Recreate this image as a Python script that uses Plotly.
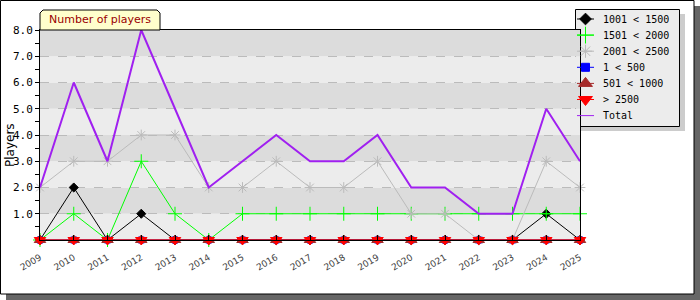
import plotly.graph_objects as go

years = list(range(2009, 2026))
s_1001_1500 = [0, 2, 0, 1, 0, 0, 0, 0, 0, 0, 0, 0, 0, 0, 0, 1, 0]
s_1501_2000 = [0, 1, 0, 3, 1, 0, 1, 1, 1, 1, 1, 1, 1, 1, 1, 1, 1]
s_2001_2500 = [2, 3, 3, 4, 4, 2, 2, 3, 2, 2, 3, 1, 1, 0, 0, 3, 2]
s_1_500 = [0] * 17
s_501_1000 = [0] * 17
s_2500_plus = [0] * 17
s_total = [2, 6, 3, 8, 5, 2, 3, 4, 3, 3, 4, 2, 2, 1, 1, 5, 3]
y_ticks = [1, 2, 3, 4, 5, 6, 7, 8]
y_ticktext = ["1.0", "2.0", "3.0", "4.0", "5.0", "6.0", "7.0", "8.0"]

W, H = 700, 300
PL, PR, PT, PB = 40, 580, 30, 240  # plot area in pixels


def fx(x):
    return x / W


def fy(y):
    return 1 - y / H


fig = go.Figure()

series = [
    ("1001 < 1500", s_1001_1500, "black", dict(symbol="diamond", size=7), 1),
    ("1501 < 2000", s_1501_2000, "#00ff00", dict(symbol="cross-thin-open", size=10), 1),
    ("2001 < 2500", s_2001_2500, "#bbbbbb", dict(symbol="asterisk-open", size=9), 1),
    ("1 < 500", s_1_500, "#0000ff", dict(symbol="square", size=6), 1),
    ("501 < 1000", s_501_1000, "#a52a2a", dict(symbol="triangle-up", size=10), 1),
    ("> 2500", s_2500_plus, "#ff0000", dict(symbol="triangle-down", size=10), 1),
    ("Total", s_total, "#a020f0", None, 2),
]
for name, vals, color, marker, lw in series:
    if marker is None:
        fig.add_trace(go.Scatter(x=years, y=vals, name=name, mode="lines",
                                 line=dict(color=color, width=lw), cliponaxis=False, showlegend=False))
    else:
        m = dict(marker, color=color, line=dict(color=color, width=1))
        fig.add_trace(go.Scatter(x=years, y=vals, name=name, mode="lines+markers",
                                 line=dict(color=color, width=lw), marker=m,
                                 cliponaxis=False, showlegend=False))

# custom legend drawn on a pixel overlay axis
LEG_X0, LEG_X1, LEG_Y0 = 577, 594, 19
LEG_STEP = 16.1
annotations = []
for i, (name, vals, color, marker, lw) in enumerate(series):
    yc = LEG_Y0 + i * LEG_STEP
    fig.add_trace(go.Scatter(x=[LEG_X0, LEG_X1], y=[yc, yc], mode="lines",
                             line=dict(color=color, width=1),
                             xaxis="x2", yaxis="y2", showlegend=False, hoverinfo="skip"))
    if marker is not None:
        m = dict(marker, color=color, line=dict(color=color, width=1))
        m["size"] = m["size"] + 2
        fig.add_trace(go.Scatter(x=[(LEG_X0 + LEG_X1) / 2], y=[yc], mode="markers", marker=m,
                                 xaxis="x2", yaxis="y2", showlegend=False, hoverinfo="skip"))
    annotations.append(dict(text=name.replace("<", "&lt;"), xref="paper", yref="paper", x=fx(601), y=fy(yc),
                            xanchor="left", yanchor="middle", showarrow=False,
                            font=dict(family="DejaVu Sans Mono", size=10, color="black")))

shapes = []
shapes.append(dict(type="rect", xref="paper", yref="paper", x0=fx(6), x1=fx(700), y0=fy(6), y1=fy(300),
                   fillcolor="#666666", line=dict(width=0), layer="below"))
shapes.append(dict(type="rect", xref="paper", yref="paper", x0=fx(0.5), x1=fx(694), y0=fy(0.5), y1=fy(294),
                   fillcolor="white", line=dict(color="black", width=1), layer="below"))
for i in range(8):
    shapes.append(dict(type="rect", xref="x", yref="y", x0=2009, x1=2025, y0=i, y1=i + 1,
                       fillcolor="#dcdcdc" if i % 2 else "#ececec", line=dict(width=0), layer="below"))
# legend shadow and box
shapes.append(dict(type="rect", xref="paper", yref="paper", x0=fx(580), x1=fx(685), y0=fy(14), y1=fy(131),
                   fillcolor="#cccccc", line=dict(width=0), layer="below"))
shapes.append(dict(type="rect", xref="paper", yref="paper", x0=fx(575.5), x1=fx(679.5), y0=fy(9.5), y1=fy(126.5),
                   fillcolor="#ececec", line=dict(color="black", width=1), layer="below"))
# title tab
pts = [(40, 30), (40, 13), (43, 10), (157, 10), (160, 13), (160, 30)]
path = "M " + " L ".join(f"{fx(a)},{fy(b)}" for a, b in pts) + " Z"
shapes.append(dict(type="path", xref="paper", yref="paper", path=path,
                   fillcolor="#ffffcc", line=dict(color="black", width=1), layer="above"))

annotations += [
    dict(text="Number of players", xref="paper", yref="paper", x=fx(100), y=fy(20),
         showarrow=False, font=dict(family="DejaVu Sans", size=11, color="#990000"),
         xanchor="center", yanchor="middle"),
    dict(text="Players", xref="paper", yref="paper", x=fx(10), y=fy(145), textangle=-90,
         showarrow=False, font=dict(family="DejaVu Sans", size=12, color="black"),
         xanchor="center", yanchor="middle"),
]

fig.update_layout(
    width=W, height=H,
    margin=dict(l=0, r=0, t=0, b=0, autoexpand=False),
    paper_bgcolor="white",
    plot_bgcolor="rgba(0,0,0,0)",
    shapes=shapes,
    showlegend=False,
    annotations=annotations,
    xaxis=dict(domain=[fx(PL), fx(PR)], range=[2009, 2025], tickvals=years,
               ticktext=[str(y) for y in years], tickangle=-30, automargin=False,
               ticklabelstandoff=8,
               tickfont=dict(family="DejaVu Sans", size=9, color="#444444"),
               showgrid=False, zeroline=False, showline=True, linecolor="black", linewidth=1,
               mirror=True, ticks="inside", ticklen=5, tickcolor="black"),
    yaxis=dict(domain=[fy(PB), fy(PT)], range=[0, 8], tickvals=y_ticks, ticktext=y_ticktext,
               automargin=False,
               tickfont=dict(family="DejaVu Sans Mono", size=11, color="black"),
               showgrid=True, gridcolor="#bbbbbb", griddash="dash", gridwidth=1,
               zeroline=False, showline=True, linecolor="black", linewidth=1, mirror=True,
               ticks="outside", ticklen=4, tickcolor="black",
               minor=dict(tickvals=[0.5, 1.5, 2.5, 3.5, 4.5, 5.5, 6.5, 7.5], ticks="outside",
                          ticklen=4, tickcolor="black", showgrid=False)),
    xaxis2=dict(domain=[0, 1], range=[0, W], visible=False, anchor="y2", automargin=False),
    yaxis2=dict(domain=[0, 1], range=[H, 0], visible=False, anchor="x2", automargin=False),
)

fig.write_html("out.html")
